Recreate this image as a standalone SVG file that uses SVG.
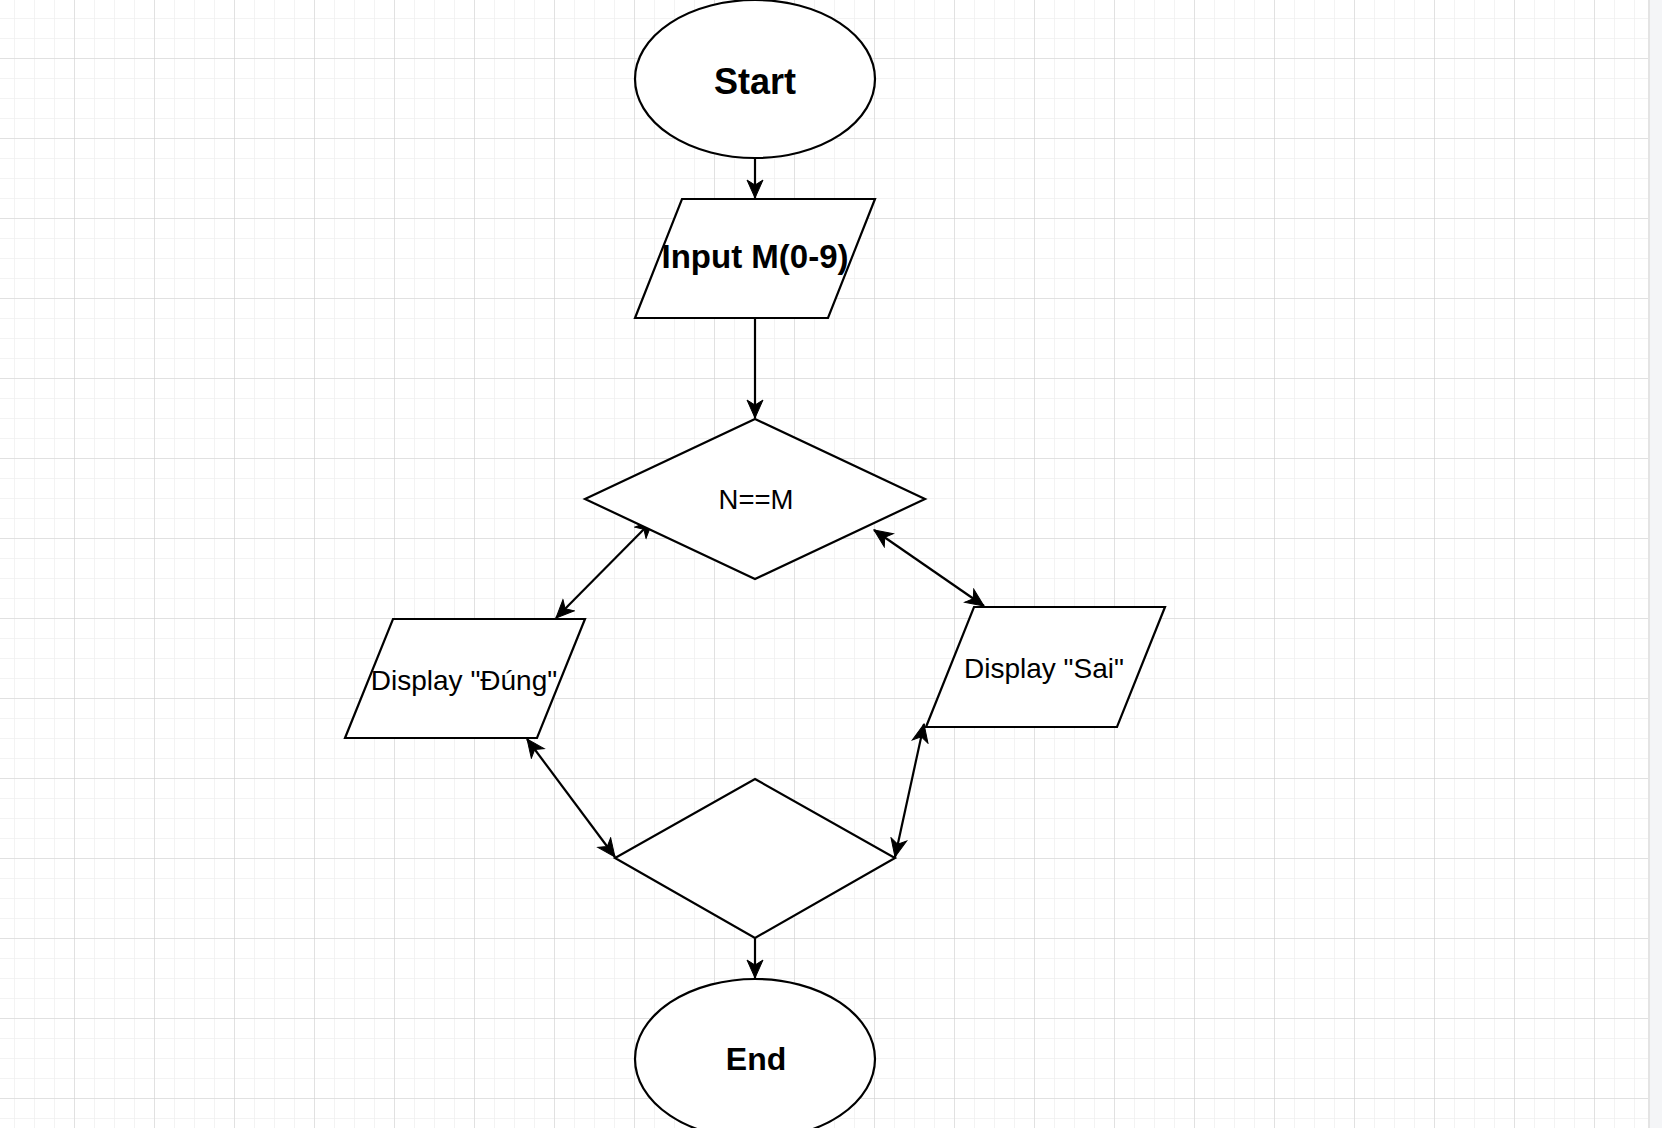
<svg xmlns="http://www.w3.org/2000/svg" width="1662" height="1128" viewBox="0 0 1662 1128">
  <style>
    .shape { fill: #ffffff; stroke: #000000; stroke-width: 2.2; }
    .edge { fill: none; stroke: #000000; stroke-width: 2.2; }
    .label { font-family: "Liberation Sans", Arial, Helvetica, sans-serif; fill: #000000; text-anchor: middle; }
    .bold { font-weight: bold; }
  </style>
  <defs>
    <pattern id="minorGrid" patternUnits="userSpaceOnUse" x="14" y="18" width="20" height="20">
      <path d="M0,0 H20 M0,0 V20" fill="none" stroke="#f0f0f0" stroke-width="1.5"/>
    </pattern>
    <pattern id="majorGrid" patternUnits="userSpaceOnUse" x="74" y="58" width="80" height="80">
      <path d="M0,0 H80 M0,0 V80" fill="none" stroke="#cfcfcf" stroke-width="1"/>
    </pattern>
    <marker id="arrow" markerUnits="userSpaceOnUse" viewBox="-19 -10 20 20" refX="0" refY="0" markerWidth="20" markerHeight="20" orient="auto-start-reverse">
      <path d="M0,0 L-18,-8 L-13,0 L-18,8 Z" fill="#000000" stroke="#000000" stroke-width="1"/>
    </marker>
  </defs>

  <!-- canvas with grid -->
  <rect x="0" y="0" width="1662" height="1128" fill="#ffffff"/>
  <rect x="0" y="0" width="1648" height="1128" fill="url(#minorGrid)"/>
  <rect x="0" y="0" width="1648" height="1128" fill="url(#majorGrid)"/>
  <rect x="1648" y="0" width="14" height="1128" fill="#f4f5f7"/>
  <rect x="1648" y="0" width="2" height="1128" fill="#e4e4e4"/>

  <!-- connectors -->
  <g id="connectors">
    <line class="edge" x1="755" y1="159" x2="755" y2="198" marker-end="url(#arrow)"/>
    <line class="edge" x1="755" y1="318" x2="755" y2="418" marker-end="url(#arrow)"/>
    <line class="edge" x1="556" y1="618" x2="653" y2="520" marker-start="url(#arrow)" marker-end="url(#arrow)"/>
    <line class="edge" x1="874" y1="530" x2="984" y2="606" marker-start="url(#arrow)" marker-end="url(#arrow)"/>
    <line class="edge" x1="527" y1="739" x2="615" y2="857" marker-start="url(#arrow)" marker-end="url(#arrow)"/>
    <line class="edge" x1="924" y1="724" x2="895" y2="857" marker-start="url(#arrow)" marker-end="url(#arrow)"/>
    <line class="edge" x1="755" y1="938" x2="755" y2="978" marker-end="url(#arrow)"/>
  </g>

  <!-- nodes -->
  <g id="start">
    <ellipse class="shape" cx="755" cy="79" rx="120" ry="79"/>
    <text class="label bold" x="755" y="94" font-size="36">Start</text>
  </g>

  <g id="input">
    <polygon class="shape" points="682,199 875,199 828,318 635,318"/>
    <text class="label bold" x="755" y="268" font-size="33">Input M(0-9)</text>
  </g>

  <g id="compare">
    <polygon class="shape" points="755,419 925,499 755,579 585,499"/>
    <text class="label" x="756" y="509" font-size="27.5">N==M</text>
  </g>

  <g id="display-dung">
    <polygon class="shape" points="393,619 585,619 537,738 345,738"/>
    <text class="label" x="464" y="690" font-size="28">Display "Đúng"</text>
  </g>

  <g id="display-sai">
    <polygon class="shape" points="974,607 1165,607 1117,727 926,727"/>
    <text class="label" x="1044" y="678" font-size="28">Display "Sai"</text>
  </g>

  <g id="merge">
    <polygon class="shape" points="755,779 895,858 755,938 615,858"/>
  </g>

  <g id="end">
    <ellipse class="shape" cx="755" cy="1059" rx="120" ry="80"/>
    <text class="label bold" x="756" y="1070" font-size="32">End</text>
  </g>
</svg>
